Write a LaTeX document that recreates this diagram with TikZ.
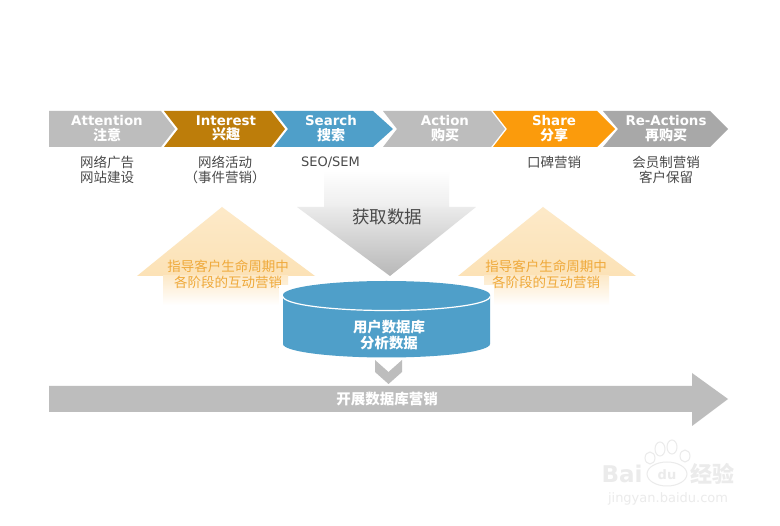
\documentclass[tikz,border=0pt]{standalone}
\usepackage{fontspec}
\setmainfont{DejaVu Sans}
\newfontfamily\zhfont{Noto Sans CJK SC}
\newcommand{\zhchev}{\zhfont\bfseries\fontsize{14}{14.5}\selectfont}
\definecolor{chgray}{HTML}{BDBDBD}
\definecolor{chbrown}{HTML}{BD7D0A}
\definecolor{chblue}{HTML}{4F9FC9}
\definecolor{chorange}{HTML}{FB9B0C}
\definecolor{chdark}{HTML}{A8A8A8}
\definecolor{labelgray}{HTML}{4A4A4A}
\definecolor{guide}{HTML}{EFA93A}
\definecolor{peach}{HTML}{FCE2B6}
\definecolor{wmgray}{HTML}{EBEBEB}
\tikzset{
  chevtext/.style={text=white,align=center,inner sep=0pt,font=\fontsize{13.4}{14.5}\selectfont},
  sublabel/.style={text=labelgray,align=center,inner sep=0pt,font=\zhfont\fontsize{13.5}{15}\selectfont},
  guidetext/.style={text=guide,align=center,inner sep=0pt,font=\zhfont\fontsize{13.5}{16}\selectfont},
  whitebold/.style={text=white,align=center,inner sep=0pt,font=\zhfont\bfseries\fontsize{14.4}{16.5}\selectfont},
}
\begin{document}
\begin{tikzpicture}[x=1pt,y=-1pt]
\useasboundingbox (0,0) rectangle (780,526);
\fill[white] (0,0) rectangle (780,526);
% chevrons
\fill[chgray] (49,111) -- (161,111) -- (175,129) -- (161,147) -- (49,147) -- cycle;
\fill[chbrown] (164,111) -- (271,111) -- (285,129) -- (271,147) -- (164,147) -- (178,129) -- cycle;
\fill[chblue] (274,111) -- (373,111) -- (393,129) -- (373,147) -- (274,147) -- (288,129) -- cycle;
\fill[chgray] (383,111) -- (491,111) -- (505,129) -- (491,147) -- (383,147) -- (397,129) -- cycle;
\fill[chorange] (493,111) -- (597,111) -- (615,129) -- (597,147) -- (493,147) -- (507,129) -- cycle;
\fill[chdark] (603,111) -- (710,111) -- (728,129) -- (710,147) -- (603,147) -- (618,129) -- cycle;
\node[chevtext] (attn) at (107,128.5) {{\bfseries Attention}\\{\zhchev 注意}};
\node[chevtext] (intr) at (226,128.5) {{\bfseries Interest}\\{\zhchev 兴趣}};
\node[chevtext] (srch) at (331,128.5) {{\bfseries Search}\\{\zhchev 搜索}};
\node[chevtext] (actn) at (445,128.5) {{\bfseries Action}\\{\zhchev 购买}};
\node[chevtext] (shar) at (554,128.5) {{\bfseries Share}\\{\zhchev 分享}};
\node[chevtext] (ract) at (666,128.5) {{\bfseries Re-Actions}\\{\zhchev 再购买}};
% sub labels
\node[sublabel] (l1) at (107,169.5) {网络广告\\网站建设};
\node[sublabel] (l2) at (225,169.5) {网络活动\\（事件营销）};
\node[sublabel] (l3) at (330.5,162) {\fontsize{13}{15}\selectfont\rmfamily SEO/SEM};
\node[sublabel] (l5) at (554,162) {口碑营销};
\node[sublabel] (l6) at (666,169.5) {会员制营销\\客户保留};
% down arrow
\shade[top color=white,bottom color=white!93!black] (324,170) rectangle (449,207.2);
\shade[top color=white!92!black,bottom color=white!72!black] (297,207) -- (476,207) -- (390,276) -- cycle;
\node[text=labelgray,inner sep=0pt,font=\zhfont\fontsize{17.5}{19}\selectfont] (get) at (387,216.5) {获取数据};
% up arrows
\shade[top color=peach!75,bottom color=peach] (222,207) -- (315,276) -- (137,276) -- cycle;
\shade[top color=peach!75,bottom color=white] (163,276) rectangle (288,305);
\shade[top color=peach!75,bottom color=peach] (543,207) -- (636,276) -- (458,276) -- cycle;
\shade[top color=peach!75,bottom color=white] (484,276) rectangle (609,305);
\node[guidetext] (gl) at (228,274) {指导客户生命周期中\\各阶段的互动营销};
\node[guidetext] (gr) at (546,274) {指导客户生命周期中\\各阶段的互动营销};
% cylinder
\fill[white] (279,285) rectangle (494,358);
\fill[chblue] (283,295) -- (283,344) arc[start angle=180,end angle=0,x radius=103.5,y radius=13.5] -- (490,295) -- cycle;
\fill[chblue] (386.5,295) ellipse[x radius=103.5,y radius=14];
\draw[white,line width=1.2pt] (283,296.5) arc[start angle=180,end angle=0,x radius=103.5,y radius=14];
\node[whitebold] (db) at (389,335) {用户数据库\\分析数据};
% small chevron
\fill[chgray] (375,360) -- (388.5,372) -- (402,360) -- (402,372) -- (388.5,384) -- (375,372) -- cycle;
% bottom arrow
\fill[chgray] (49,386) -- (692,386) -- (692,373) -- (728,399) -- (692,426) -- (692,412) -- (49,412) -- cycle;
\node[text=white,inner sep=0pt,font=\zhfont\bfseries\fontsize{14.5}{16}\selectfont] (run) at (387,399) {开展数据库营销};
% watermark
\node[text=wmgray,inner sep=0pt,font=\bfseries\fontsize{23}{26}\selectfont] (bai) at (622,474) {Bai};
\node[text=wmgray,inner sep=0pt,font=\bfseries\fontsize{13}{14}\selectfont] (du) at (667,475) {du};
\draw[draw=wmgray,line width=1pt] (667,474) ellipse[x radius=20,y radius=12];
\foreach \a/\b/\rx/\ry in {650/458/5/6,660/449/5/7,672/447/5/7,685/456/5/6}
  \draw[draw=wmgray,line width=1pt] (\a,\b) ellipse[x radius=\rx,y radius=\ry];
\node[text=wmgray,inner sep=0pt,font=\zhfont\bfseries\fontsize{22}{24}\selectfont] (jy) at (712.5,474) {经验};
\node[text=wmgray,inner sep=0pt,font=\fontsize{13}{14}\selectfont] (url) at (668,499) {jingyan.baidu.com};
\end{tikzpicture}
\end{document}
